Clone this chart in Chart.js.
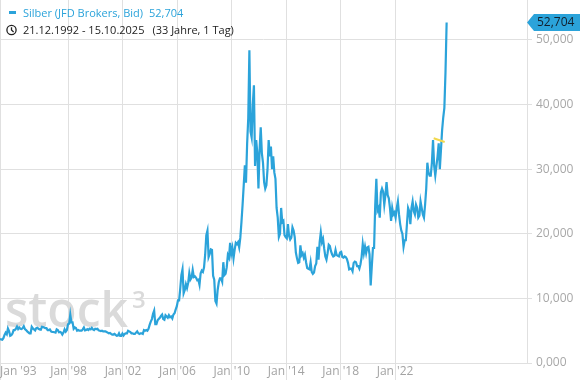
<!DOCTYPE html>
<html>
<head>
<meta charset="utf-8">
<script src="https://cdn.jsdelivr.net/npm/chart.js@4"></script>
<style>
  html, body { margin: 0; padding: 0; background: #fff; }
  #wrap { position: relative; width: 580px; height: 380px; }
</style>
</head>
<body>
<div id="wrap"><canvas id="chart" width="580" height="380"></canvas></div>
<script>
// Data
const seriesName = 'Silber (JFD Brokers, Bid)';
const periodText = '21.12.1992 - 15.10.2025';
const spanText = '(33 Jahre, 1 Tag)';
const startYear = 1992, startMonth = 12;   // first value: Dec 1992, then monthly
const silver = [
  3.70,
  3.65, 3.60, 3.85, 4.35, 4.70, 4.45, 5.35, 4.95, 4.20, 4.30, 4.55, 5.10,   // 1993
  5.10, 5.30, 5.65, 5.25, 5.50, 5.30, 5.25, 5.40, 5.70, 5.25, 5.10, 4.90,   // 1994
  4.75, 4.60, 4.60, 5.60, 5.35, 5.20, 5.05, 5.40, 5.45, 5.30, 5.20, 5.15,   // 1995
  5.60, 5.55, 5.50, 5.40, 5.40, 5.10, 5.10, 5.20, 4.90, 4.80, 4.80, 4.75,   // 1996
  4.70, 5.20, 5.10, 4.75, 4.80, 4.70, 4.40, 4.70, 5.20, 4.85, 5.10, 6.00,   // 1997
  6.10, 7.50, 6.30, 6.30, 5.30, 5.50, 5.40, 5.00, 5.10, 5.00, 5.00, 5.00,   // 1998
  5.20, 5.50, 5.05, 5.10, 5.25, 5.10, 5.30, 5.20, 5.45, 5.20, 5.10, 5.30,   // 1999
  5.25, 5.30, 5.05, 5.00, 4.95, 5.00, 4.90, 4.90, 4.90, 4.80, 4.70, 4.60,   // 2000
  4.65, 4.50, 4.40, 4.40, 4.50, 4.35, 4.20, 4.25, 4.60, 4.20, 4.20, 4.55,   // 2001
  4.25, 4.50, 4.60, 4.60, 5.00, 4.90, 4.80, 4.60, 4.60, 4.50, 4.50, 4.70,   // 2002
  4.90, 4.60, 4.50, 4.60, 4.60, 4.50, 5.10, 5.00, 5.10, 5.00, 5.30, 5.90,   // 2003
  6.40, 6.80, 7.60, 8.10, 6.00, 6.00, 6.60, 6.80, 7.00, 7.30, 7.50, 6.80,   // 2004
  6.70, 7.40, 7.20, 7.00, 7.40, 7.10, 7.20, 6.90, 7.50, 7.70, 8.30, 8.80,   // 2005
  9.70, 9.70, 11.50, 13.60, 14.50, 10.80, 11.30, 12.20, 11.60, 12.40, 13.90, 12.90, // 2006
  13.20, 14.40, 13.30, 13.40, 13.20, 12.80, 12.90, 12.10, 13.90, 14.30, 14.10, 14.80, // 2007
  16.80, 19.80, 20.50, 16.40, 16.90, 17.60, 17.50, 13.50, 12.90, 9.60, 9.20, 11.30,  // 2008
  12.50, 13.10, 13.10, 12.60, 15.60, 13.60, 13.80, 14.80, 16.70, 16.30, 18.60, 16.90, // 2009
  17.80, 16.20, 17.50, 18.60, 18.40, 18.70, 17.90, 19.40, 21.80, 24.50, 27.50, 30.60, // 2010
  27.90, 33.90, 37.90, 48.40, 35.80, 34.90, 40.00, 43.00, 30.50, 34.50, 32.50, 27.00, // 2011
  33.00, 36.50, 32.50, 31.00, 28.00, 27.00, 27.50, 30.00, 34.50, 32.00, 33.50, 30.00, // 2012
  32.00, 29.50, 28.50, 24.00, 22.50, 19.50, 20.00, 24.00, 21.80, 22.00, 19.80, 19.50, // 2013
  19.30, 21.50, 19.70, 19.10, 19.40, 21.00, 20.50, 19.50, 17.10, 16.20, 15.50, 15.60, // 2014
  18.20, 16.70, 17.00, 16.30, 16.80, 15.60, 14.70, 14.60, 14.50, 15.60, 14.10, 13.80, // 2015
  14.00, 15.00, 15.40, 18.00, 16.00, 18.70, 20.20, 18.70, 19.20, 17.70, 16.50, 16.00, // 2016
  17.00, 18.30, 18.10, 17.30, 16.80, 16.50, 16.60, 17.50, 16.70, 16.60, 16.50, 17.10, // 2017
  17.20, 16.40, 16.30, 16.50, 16.40, 16.10, 15.50, 14.50, 14.60, 14.60, 14.20, 15.50, // 2018
  15.70, 15.60, 15.00, 15.00, 14.60, 15.30, 16.40, 18.40, 17.00, 18.00, 17.00, 17.90, // 2019
  18.00, 16.80, 12.00, 15.00, 17.80, 17.80, 24.40, 28.50, 23.60, 24.00, 22.50, 26.40, // 2020
  27.00, 26.50, 24.50, 26.00, 28.00, 26.00, 25.50, 24.00, 22.00, 24.00, 23.00, 23.30, // 2021
  22.50, 24.00, 25.00, 23.00, 21.50, 20.50, 20.00, 18.00, 19.00, 19.00, 21.50, 24.00, // 2022
  23.50, 21.50, 24.00, 25.00, 23.50, 23.00, 24.50, 24.00, 22.50, 22.80, 25.00, 24.00, // 2023
  23.00, 22.50, 24.50, 27.00, 31.00, 29.50, 29.00, 29.00, 31.00, 34.50, 30.50, 29.00, // 2024
  30.50, 32.00, 34.00, 30.00, 33.00, 36.00, 38.00, 39.50, 45.00, 52.704              // 2025
];
const xTickYears = [1993, 1998, 2002, 2006, 2010, 2014, 2018, 2022];
const yTicks = [0, 10, 20, 30, 40, 50];
const markerYears = [2024.84, 2025.65];
const markerValues = [34.8, 34.2];

const BLUE = '#2ba3da';
const GRID = '#e0e0e0';
const FONT = '"Open Sans", "Noto Sans", sans-serif';

const fmt = v => v.toFixed(3).replace('.', ',');
const monthX = i => startYear + (startMonth - 1 + i + 0.5) / 12;

const silverPoints = silver.map((v, i) => ({ x: monthX(i), y: v }));
const markerPoints = markerYears.map((x, i) => ({ x: x, y: markerValues[i] }));
const lastValue = silver[silver.length - 1];

// watermark, legend, x labels, value tag
const decor = {
  id: 'decor',
  beforeDatasetsDraw(chart) {
    const ctx = chart.ctx;
    ctx.save();
    ctx.fillStyle = '#dadada';
    ctx.textBaseline = 'alphabetic';
    ctx.font = '600 48px ' + FONT;
    ctx.fillText('stock', 5, 327);
    ctx.font = '600 24px ' + FONT;
    ctx.fillText('3', 132, 308);
    ctx.restore();
  },
  afterDraw(chart) {
    const ctx = chart.ctx;
    const xs = chart.scales.x, ys = chart.scales.y;
    ctx.save();

    // x labels
    ctx.font = '12px ' + FONT;
    ctx.fillStyle = '#a3a3a3';
    ctx.textBaseline = 'alphabetic';
    xTickYears.forEach(yr => {
      const txt = "Jan '" + String(yr).slice(2);
      const w = ctx.measureText(txt).width;
      const px = xs.getPixelForValue(yr);
      ctx.fillText(txt, Math.max(px - w / 2, 0), 375);
    });

    // legend line 1
    ctx.fillStyle = BLUE;
    ctx.fillRect(9, 11, 7, 3);
    ctx.font = '11px ' + FONT;
    ctx.fillText(seriesName, 23, 17);
    ctx.fillText(fmt(lastValue), 23 + ctx.measureText(seriesName).width + 6, 17);

    // legend line 2 with clock
    ctx.strokeStyle = '#222';
    ctx.lineWidth = 1.3;
    ctx.beginPath();
    ctx.arc(11.5, 30, 4.6, 0, Math.PI * 2);
    ctx.stroke();
    ctx.beginPath();
    ctx.moveTo(11.5, 27.3);
    ctx.lineTo(11.5, 30);
    ctx.lineTo(13.6, 32);
    ctx.stroke();
    ctx.fillStyle = '#222';
    ctx.fillText(periodText, 23, 34);
    ctx.fillText(spanText, 23 + ctx.measureText(periodText).width + 8, 34);

    // last value tag
    const ty = ys.getPixelForValue(lastValue);
    const left = chart.chartArea.right;
    ctx.fillStyle = BLUE;
    ctx.beginPath();
    ctx.moveTo(left, ty);
    ctx.lineTo(left + 7, ty - 8.5);
    ctx.lineTo(580, ty - 8.5);
    ctx.lineTo(580, ty + 8.5);
    ctx.lineTo(left + 7, ty + 8.5);
    ctx.closePath();
    ctx.fill();
    ctx.fillStyle = '#12202e';
    ctx.font = '12px ' + FONT;
    ctx.textBaseline = 'middle';
    ctx.fillText(fmt(lastValue), left + 10, ty + 0.5);

    ctx.restore();
  }
};

new Chart(document.getElementById('chart'), {
  type: 'line',
  data: {
    datasets: [
      {
        data: markerPoints,
        borderColor: '#f2d84c',
        borderWidth: 2,
        pointRadius: 0
      },
      {
        data: silverPoints,
        borderColor: BLUE,
        borderWidth: 2.2,
        pointRadius: 0,
        tension: 0
      }
    ]
  },
  options: {
    responsive: false,
    animation: false,
    devicePixelRatio: 1,
    layout: { padding: 0 },
    plugins: {
      legend: { display: false },
      tooltip: { enabled: false }
    },
    scales: {
      x: {
        type: 'linear',
        min: monthX(0),
        max: 2031.7,
        afterBuildTicks: s => { s.ticks = xTickYears.map(v => ({ value: v })); },
        afterFit: s => { s.height = 17; s.paddingLeft = 0; s.paddingRight = 0; },
        grid: { color: GRID, tickLength: 17, drawTicks: true },
        border: { color: GRID },
        ticks: { display: false }
      },
      y: {
        position: 'right',
        min: 0,
        max: 56.19,
        afterBuildTicks: s => { s.ticks = yTicks.map(v => ({ value: v })); },
        afterFit: s => { s.width = 53; s.paddingTop = 0; s.paddingBottom = 0; },
        grid: { color: GRID, tickLength: 5 },
        border: { color: GRID },
        ticks: {
          padding: 4,
          color: '#a8a8a8',
          font: { family: FONT, size: 12 },
          callback: v => fmt(v)
        }
      }
    }
  },
  plugins: [decor]
});
</script>
</body>
</html>
